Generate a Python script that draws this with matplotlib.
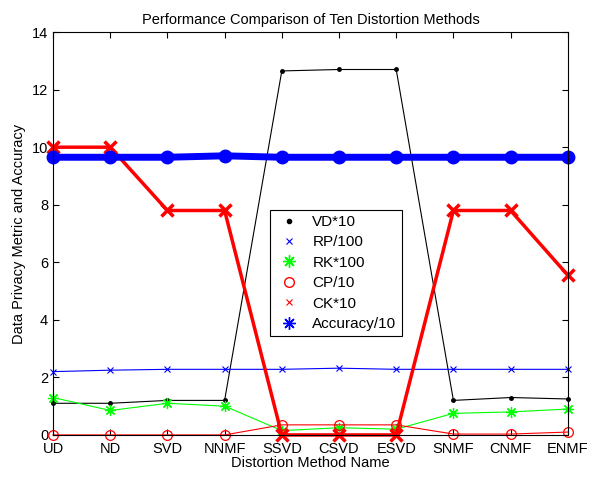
import numpy as np
import matplotlib.pyplot as plt
from matplotlib.lines import Line2D

plt.rcParams['font.family'] = ['Liberation Sans', 'DejaVu Sans']

methods = ["UD", "ND", "SVD", "NNMF", "SSVD", "CSVD", "ESVD", "SNMF", "CNMF", "ENMF"]
vd = [1.1, 1.1, 1.2, 1.2, 12.65, 12.7, 12.7, 1.2, 1.3, 1.25]
rp = [2.2, 2.25, 2.28, 2.28, 2.28, 2.32, 2.28, 2.28, 2.28, 2.28]
rk = [1.3, 0.85, 1.1, 1.0, 0.15, 0.25, 0.2, 0.75, 0.8, 0.9]
cp = [0.0, 0.0, 0.0, 0.0, 0.35, 0.35, 0.35, 0.03, 0.03, 0.1]
ck = [10.0, 10.0, 7.8, 7.8, 0.0, 0.0, 0.0, 7.8, 7.8, 5.55]
acc = [9.65, 9.65, 9.65, 9.7, 9.65, 9.65, 9.65, 9.65, 9.65, 9.65]

x = np.arange(len(methods))
star = (8, 2, 0)  # matlab-style asterisk

fig = plt.figure(figsize=(5.89, 4.79), dpi=100)
ax = fig.add_axes([0.09, 0.092, 0.874, 0.841])

ax.plot(x, vd, color="black", lw=0.8, marker=".", ms=5, clip_on=False)
ax.plot(x, rp, color="blue", lw=0.8, marker="x", ms=4, mew=0.8, clip_on=False)
ax.plot(x, rk, color="#00ff00", lw=0.8, marker=star, ms=8, mew=0.9, clip_on=False)
ax.plot(x, cp, color="red", lw=0.8, marker="o", ms=7, mfc="none", mew=0.9, clip_on=False)
ax.plot(x, ck, color="red", lw=2.5, marker="x", ms=9, mew=2.5, clip_on=False)
ax.plot(x, acc, color="blue", lw=5, marker="o", ms=9, clip_on=False)

ax.set_xlim(0, 9)
ax.set_ylim(0, 14)
ax.set_xticks(x)
ax.set_xticklabels(methods)
ax.set_yticks(np.arange(0, 15, 2))
ax.tick_params(direction="in", top=True, right=True, labelsize=10.5, length=4)
ax.tick_params(axis="x", pad=5)
ax.set_xlabel("Distortion Method Name", fontsize=10.5, labelpad=0)
ax.set_ylabel("Data Privacy Metric and Accuracy", fontsize=10.5)
ax.set_title("Performance Comparison of Ten Distortion Methods", fontsize=10.5)

handles = [
    Line2D([], [], color="black", ls="none", marker=".", ms=6),
    Line2D([], [], color="blue", ls="none", marker="x", ms=4, mew=0.8),
    Line2D([], [], color="#00ff00", ls="none", marker=star, ms=9, mew=1),
    Line2D([], [], color="red", ls="none", marker="o", ms=7, mfc="none", mew=1),
    Line2D([], [], color="red", ls="none", marker="x", ms=4, mew=0.8),
    Line2D([], [], color="blue", ls="none", marker=star, ms=9, mew=1),
]
labels = ["VD*10", "RP/100", "RK*100", "CP/10", "CK*10", "Accuracy/10"]
leg = ax.legend(handles, labels, loc="center", bbox_to_anchor=(0.55, 0.402),
                fontsize=11, fancybox=False, edgecolor="black", framealpha=1,
                handlelength=1.8, labelspacing=0.42, borderpad=0.35,
                handletextpad=0.6)
leg.get_frame().set_linewidth(0.8)

fig.savefig("out.png", dpi=100)
